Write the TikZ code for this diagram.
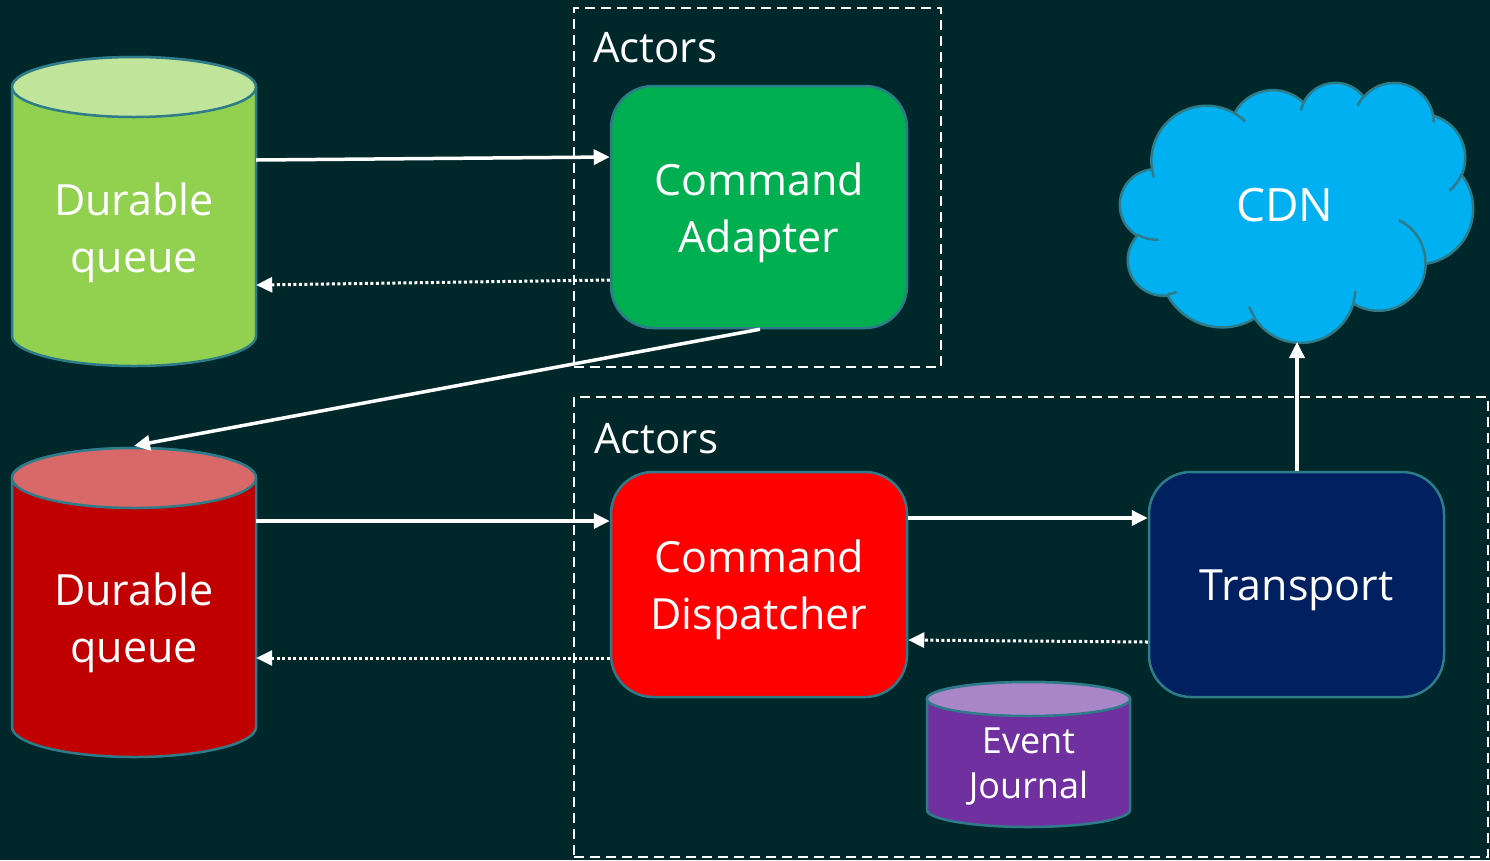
\documentclass[tikz,border=0pt]{standalone}
\usepackage{fontspec}
\setmainfont{Open Sans}
\usetikzlibrary{arrows.meta,calc}
\definecolor{bg}{HTML}{00282A}
\definecolor{edge}{HTML}{2E7C8A}
\definecolor{qgreen}{HTML}{92D050}
\definecolor{qgreentop}{HTML}{C0E49A}
\definecolor{qred}{HTML}{C00000}
\definecolor{qredtop}{HTML}{D96868}
\definecolor{adgreen}{HTML}{00B050}
\definecolor{dispred}{HTML}{FF0000}
\definecolor{trblue}{HTML}{002060}
\definecolor{evpurple}{HTML}{7030A0}
\definecolor{evpurpletop}{HTML}{A986C8}
\definecolor{cdnblue}{HTML}{00B0F0}
\newcommand\mycyl[7]{%
  \filldraw[cylline, fill=#6] (#1-#2,#3) -- (#1-#2,#4)
    arc[start angle=180, delta angle=-180, x radius=#2, y radius=#5]
    -- (#1+#2,#3)
    arc[start angle=0, delta angle=-180, x radius=#2, y radius=#5] -- cycle;
  \filldraw[cylline, fill=#7] (#1,#3) ellipse[x radius=#2, y radius=#5];
}
\begin{document}
\begin{tikzpicture}[x=1pt,y=-1pt,
  cylline/.style={draw=edge, line width=2.5pt},
  lbl/.style={text=white, align=center, inner sep=0pt, font=\fontsize{43}{57}\selectfont},
  boxnode/.style={draw=edge, line width=2.5pt, rounded corners=42pt, inner sep=0pt},
  actbox/.style={draw=white, line width=2.5pt, dash pattern=on 10pt off 6pt, inner sep=0pt},
  arr/.style={draw=white, line width=3.5pt, -{Triangle[length=16pt,width=15pt]}},
  darr/.style={draw=white, line width=3pt, dash pattern=on 3pt off 2.5pt, -{Triangle[length=16pt,width=15pt]}},
]
\fill[bg] (0,0) rectangle (1490,860);
\useasboundingbox (0,0) rectangle (1490,860);

% group frames
\node[actbox, minimum width=367pt, minimum height=359pt] (g1) at (757.5,187.5) {};
\node[actbox, minimum width=914pt, minimum height=460pt] (g2) at (1031,627) {};
\node[text=white, anchor=west, inner sep=0pt, font=\fontsize{42}{50}\selectfont] (a1) at (593,48) {Actors};
\node[text=white, anchor=west, inner sep=0pt, font=\fontsize{42}{50}\selectfont] (a2) at (594,439) {Actors};

% cylinders
\mycyl{134}{122}{87}{336}{30}{qgreen}{qgreentop}
\mycyl{134}{122}{478}{727}{30}{qred}{qredtop}
\mycyl{1028.5}{101.5}{699}{810}{17}{evpurple}{evpurpletop}
\node[minimum width=244pt, minimum height=249pt, inner sep=0pt] (gq) at (134,211.5) {};
\node[minimum width=244pt, minimum height=249pt, inner sep=0pt] (rq) at (134,602.5) {};
\node[lbl] (gqt) at (134,233) {Durable\\queue};
\node[lbl] (rqt) at (134,623) {Durable\\queue};
\node[lbl, font=\fontsize{36}{45}\selectfont, minimum width=203pt] (ej) at (1028.5,767) {Event\\Journal};

% boxes
\node[boxnode, fill=adgreen, minimum width=296pt, minimum height=242pt] (ca) at (759,207) {};
\node[lbl] (cat) at (759,213) {Command\\Adapter};
\node[boxnode, fill=dispred, minimum width=296pt, minimum height=225pt] (cd) at (759,584.5) {};
\node[lbl] (cdt) at (759,590) {Command\\Dispatcher};
\node[boxnode, fill=trblue, minimum width=295pt, minimum height=225pt] (tr) at (1296.5,584.5) {};
\node[lbl] (trt) at (1296.5,590) {Transport};

% cloud
\begin{scope}[shift={(1120pt,-82pt)}, x=0.081713pt, y=-0.060185pt]
\filldraw[draw=edge, line width=2.5pt, fill=cdnblue] (390,1437)
  arc[start angle=-187.746, delta angle=128.136, x radius=675.3, y radius=919.0]
  arc[start angle=-152.03, delta angle=106.58, x radius=533.3, y radius=726.7]
  arc[start angle=-153.48, delta angle=116.16, x radius=436.5, y radius=594.5]
  arc[start angle=-139.71, delta angle=129.50, x radius=485.7, y radius=659.5]
  arc[start angle=-74.79, delta angle=98.00, x radius=533.3, y radius=727.3]
  arc[start angle=-37.53, delta angle=119.39, x radius=677.5, y radius=922.0]
  arc[start angle=0.46, delta angle=121.52, x radius=578.5, y radius=786.7]
  arc[start angle=16.84, delta angle=129.41, x radius=675.2, y radius=921.5]
  arc[start angle=59.02, delta angle=91.15, x radius=772.0, y radius=1054.3]
  arc[start angle=-276.70, delta angle=139.79, x radius=436.0, y radius=591.8]
  arc[start angle=-239.62, delta angle=143.73, x radius=434.5, y radius=594.5]
  -- cycle;
\draw[draw=edge, line width=2.5pt]
  (469.3,2617.7) arc[start angle=85.55, delta angle=34.83, x radius=434.5, y radius=594.5]
  (692.8,3489.9) arc[start angle=68.22, delta angle=15.08, x radius=436.0, y radius=591.8]
  (1647.8,3909.0) arc[start angle=146.25, delta angle=12.22, x radius=675.2, y radius=921.5]
  (2882.7,3475.1) arc[start angle=4.74, delta angle=12.10, x radius=675.2, y radius=921.5]
  (3412.9,2295.4) arc[start angle=-64.01, delta angle=64.47, x radius=578.5, y radius=786.7]
  (4179.8,1535.4) arc[start angle=23.21, delta angle=26.45, x radius=533.3, y radius=727.3]
  (3832.4,542.6) arc[start angle=-10.21, delta angle=11.03, x radius=485.7, y radius=659.5]
  (2907.8,395.2) arc[start angle=-156.28, delta angle=16.57, x radius=485.7, y radius=659.5]
  (2214.1,472.0) arc[start angle=-167.72, delta angle=14.24, x radius=436.5, y radius=594.5]
  (1400.0,519.2) arc[start angle=-59.61, delta angle=13.87, x radius=675.3, y radius=919.0]
  (412.7,1578.9) arc[start angle=163.19, delta angle=9.06, x radius=675.3, y radius=919.0];
\end{scope}
\node[lbl, font=\fontsize{46}{55}\selectfont] (cdn) at (1285,205) {CDN};
\coordinate (cdnb) at (1297,342);

% connectors
\draw[arr] ($(gq.east)+(0,-51.5)$) -- ($(ca.west)+(0,-50)$);
\draw[darr] ($(ca.west)+(0,73)$) -- ($(gq.east)+(0,73.5)$);
\draw[arr] ($(ca.south)+(1,0)$) -- ($(rq.north)+(0,-32)$);
\draw[arr] ($(rq.east)+(0,-81.5)$) -- ($(cd.west)+(0,-63.5)$);
\draw[darr] ($(cd.west)+(0,73.5)$) -- ($(rq.east)+(0,55.5)$);
\draw[arr] ($(cd.east)+(0,-66.5)$) -- ($(tr.west)+(0,-66.5)$);
\draw[darr] ($(tr.west)+(0,57.5)$) -- ($(cd.east)+(0,55.5)$);
\draw[arr] ($(tr.north)+(0.5,0)$) -- (cdnb);
\end{tikzpicture}
\end{document}
